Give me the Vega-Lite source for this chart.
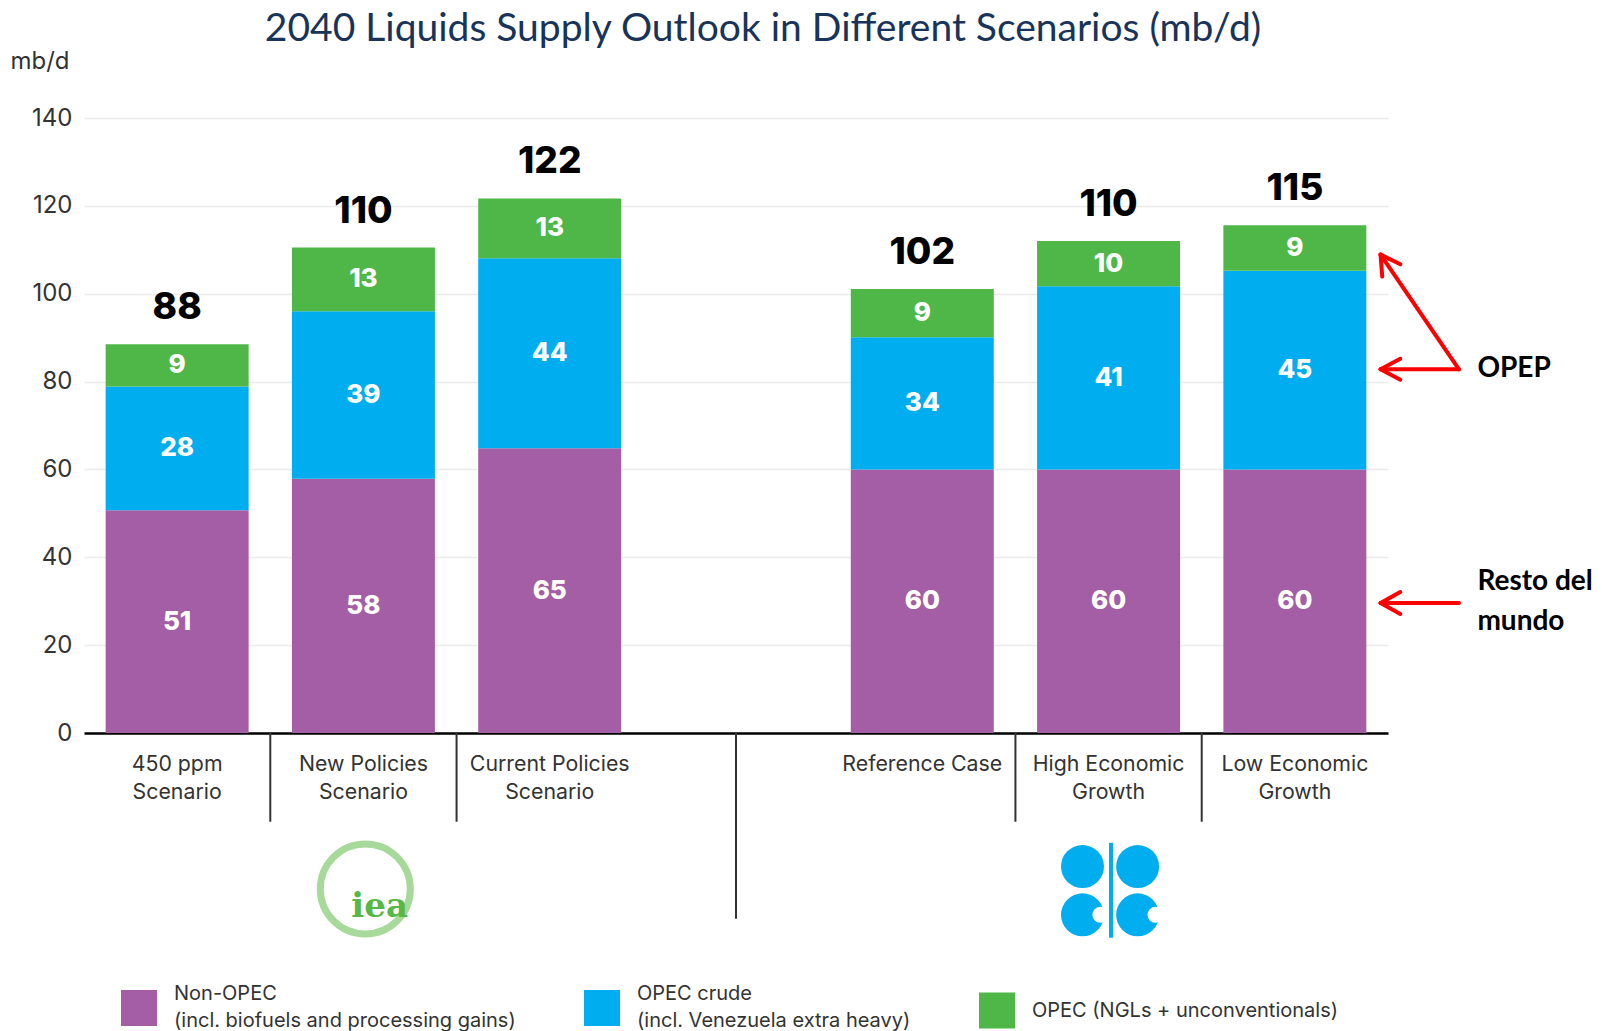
{
  "$schema": "https://vega.github.io/schema/vega-lite/v6.json",
  "width": 1304,
  "height": 615,
  "autosize": {"type": "none"},
  "padding": {"left": 84, "top": 118, "right": 214, "bottom": 298},
  "background": "white",
  "title": {
    "text": "2040 Liquids Supply Outlook in Different Scenarios (mb/d)",
    "font": "Lato",
    "fontSize": 39,
    "fontWeight": "normal",
    "color": "#18345a",
    "anchor": "middle",
    "frame": "group",
    "dx": 27,
    "offset": 0
  },
  "config": {
    "view": {"stroke": null},
    "font": "Inter",
    "style": {"guide-label": {"lineHeight": 27}}
  },
  "datasets": {
    "supply": [
      {"scenario": "450 ppm Scenario", "type": "Non-OPEC (incl. biofuels and processing gains)", "level": 1, "value": 50.7, "label": "51", "total": 88},
      {"scenario": "450 ppm Scenario", "type": "OPEC crude (incl. Venezuela extra heavy)", "level": 2, "value": 28.2, "label": "28", "total": 88},
      {"scenario": "450 ppm Scenario", "type": "OPEC (NGLs + unconventionals)", "level": 3, "value": 9.6, "label": "9", "total": 88},
      {"scenario": "New Policies Scenario", "type": "Non-OPEC (incl. biofuels and processing gains)", "level": 1, "value": 57.9, "label": "58", "total": 110},
      {"scenario": "New Policies Scenario", "type": "OPEC crude (incl. Venezuela extra heavy)", "level": 2, "value": 38.1, "label": "39", "total": 110},
      {"scenario": "New Policies Scenario", "type": "OPEC (NGLs + unconventionals)", "level": 3, "value": 14.5, "label": "13", "total": 110},
      {"scenario": "Current Policies Scenario", "type": "Non-OPEC (incl. biofuels and processing gains)", "level": 1, "value": 64.8, "label": "65", "total": 122},
      {"scenario": "Current Policies Scenario", "type": "OPEC crude (incl. Venezuela extra heavy)", "level": 2, "value": 43.3, "label": "44", "total": 122},
      {"scenario": "Current Policies Scenario", "type": "OPEC (NGLs + unconventionals)", "level": 3, "value": 13.6, "label": "13", "total": 122},
      {"scenario": "Reference Case", "type": "Non-OPEC (incl. biofuels and processing gains)", "level": 1, "value": 60.0, "label": "60", "total": 102},
      {"scenario": "Reference Case", "type": "OPEC crude (incl. Venezuela extra heavy)", "level": 2, "value": 30.1, "label": "34", "total": 102},
      {"scenario": "Reference Case", "type": "OPEC (NGLs + unconventionals)", "level": 3, "value": 11.0, "label": "9", "total": 102},
      {"scenario": "High Economic Growth", "type": "Non-OPEC (incl. biofuels and processing gains)", "level": 1, "value": 60.0, "label": "60", "total": 110},
      {"scenario": "High Economic Growth", "type": "OPEC crude (incl. Venezuela extra heavy)", "level": 2, "value": 41.7, "label": "41", "total": 110},
      {"scenario": "High Economic Growth", "type": "OPEC (NGLs + unconventionals)", "level": 3, "value": 10.3, "label": "10", "total": 110},
      {"scenario": "Low Economic Growth", "type": "Non-OPEC (incl. biofuels and processing gains)", "level": 1, "value": 60.0, "label": "60", "total": 115},
      {"scenario": "Low Economic Growth", "type": "OPEC crude (incl. Venezuela extra heavy)", "level": 2, "value": 45.2, "label": "45", "total": 115},
      {"scenario": "Low Economic Growth", "type": "OPEC (NGLs + unconventionals)", "level": 3, "value": 10.4, "label": "9", "total": 115}
    ],
    "arrows": [
      {"x": 7.381, "y": 82.8, "x2": 6.960, "y2": 108.9},
      {"x": 6.960, "y": 108.9, "x2": 6.969, "y2": 103.9},
      {"x": 6.960, "y": 108.9, "x2": 7.066, "y2": 106.7},
      {"x": 7.381, "y": 82.8, "x2": 6.960, "y2": 82.8},
      {"x": 6.960, "y": 82.8, "x2": 7.066, "y2": 85.2},
      {"x": 6.960, "y": 82.8, "x2": 7.066, "y2": 80.4},
      {"x": 7.381, "y": 29.6, "x2": 6.960, "y2": 29.6},
      {"x": 6.960, "y": 29.6, "x2": 7.066, "y2": 32.1},
      {"x": 6.960, "y": 29.6, "x2": 7.066, "y2": 27.1}
    ],
    "notes": [
      {"x": 7.48, "y": 82.8, "text": "OPEP"},
      {"x": 7.48, "y": 34.3, "text": "Resto del"},
      {"x": 7.48, "y": 25.2, "text": "mundo"}
    ],
    "opecBlobs": [
      {"x": 5.360, "y": -30.4},
      {"x": 5.656, "y": -30.4},
      {"x": 5.360, "y": -41.4},
      {"x": 5.656, "y": -41.4}
    ],
    "opecNotches": [
      {"x": 5.456, "y": -41.4},
      {"x": 5.752, "y": -41.4}
    ]
  },
  "layer": [
    {
      "data": {"name": "supply"},
      "encoding": {
        "x": {
          "field": "scenario",
          "type": "nominal",
          "title": null,
          "scale": {
            "domain": ["450 ppm Scenario", "New Policies Scenario", "Current Policies Scenario", "gap", "Reference Case", "High Economic Growth", "Low Economic Growth"],
            "paddingInner": 0.2324,
            "paddingOuter": 0.1162
          },
          "axis": {
            "labelAngle": 0,
            "ticks": false,
            "domain": true,
            "domainColor": "#000000",
            "domainWidth": 2.5,
            "labelFont": "Inter",
            "labelFontSize": 21.3,
            "labelColor": "#333333",
            "labelPadding": 20,
            "labelBaseline": "top",
            "labelLineHeight": 28.6,
            "labelLimit": 300,
            "labelExpr": "datum.label == '450 ppm Scenario' ? ['450 ppm', 'Scenario'] : datum.label == 'New Policies Scenario' ? ['New Policies', 'Scenario'] : datum.label == 'Current Policies Scenario' ? ['Current Policies', 'Scenario'] : datum.label == 'High Economic Growth' ? ['High Economic', 'Growth'] : datum.label == 'Low Economic Growth' ? ['Low Economic', 'Growth'] : datum.label == 'gap' ? '' : datum.label"
          }
        }
      },
      "layer": [
        {
          "mark": {"type": "bar"},
          "encoding": {
            "y": {
              "field": "value",
              "type": "quantitative",
              "stack": "zero",
              "title": "mb/d",
              "scale": {"domain": [0, 140], "nice": false},
              "axis": {
                "values": [0, 20, 40, 60, 80, 100, 120, 140],
                "grid": true,
                "gridColor": "#ebebeb",
                "gridWidth": 1.5,
                "domain": false,
                "ticks": false,
                "labelFont": "Inter",
                "labelFontSize": 24,
                "labelColor": "#333333",
                "labelPadding": 12,
                "titleAngle": 0,
                "titleAlign": "left",
                "titleBaseline": "middle",
                "titleX": -74,
                "titleY": -57,
                "titleFont": "Inter",
                "titleFontSize": 24,
                "titleFontWeight": "normal",
                "titleColor": "#333333"
              }
            },
            "color": {
              "field": "type",
              "type": "nominal",
              "scale": {
                "domain": ["Non-OPEC (incl. biofuels and processing gains)", "OPEC crude (incl. Venezuela extra heavy)", "OPEC (NGLs + unconventionals)"],
                "range": ["#a45ea5", "#00aeef", "#4eb748"]
              },
              "legend": {
                "title": null,
                "orient": "none",
                "legendX": 37,
                "legendY": 872,
                "direction": "horizontal",
                "columns": 3,
                "padding": 0,
                "symbolType": "square",
                "symbolSize": 1296,
                "symbolStrokeWidth": 0,
                "symbolOpacity": 1,
                "labelFont": "Inter",
                "labelFontSize": 20,
                "labelColor": "#333333",
                "labelOffset": 17,
                "labelLimit": 500,
                "columnPadding": 68,
                "labelBaseline": {"expr": "indexof(datum.value, 'unconventionals') >= 0 ? 'middle' : 'line-bottom'"},
                "labelExpr": "datum.label == 'Non-OPEC (incl. biofuels and processing gains)' ? ['Non-OPEC', '(incl. biofuels and processing gains)'] : datum.label == 'OPEC crude (incl. Venezuela extra heavy)' ? ['OPEC crude', '(incl. Venezuela extra heavy)'] : datum.label"
              }
            },
            "order": {"field": "level", "type": "quantitative"}
          }
        },
        {
          "transform": [
            {"stack": "value", "groupby": ["scenario"], "sort": [{"field": "level", "order": "ascending"}], "as": ["v0", "v1"]},
            {"fold": ["v0", "v1"], "as": ["edge", "pos"]}
          ],
          "mark": {"type": "text", "color": "white", "font": "Inter", "fontWeight": 800, "fontSize": 26, "baseline": "middle"},
          "encoding": {
            "y": {"field": "pos", "aggregate": "mean", "type": "quantitative", "stack": null, "title": "mb/d", "scale": {"domain": [0, 140], "nice": false}},
            "text": {"field": "label", "type": "nominal"},
            "detail": {"field": "type", "type": "nominal"}
          }
        },
        {
          "transform": [
            {"aggregate": [{"op": "sum", "field": "value", "as": "top"}, {"op": "max", "field": "total", "as": "total"}], "groupby": ["scenario"]}
          ],
          "mark": {"type": "text", "color": "black", "font": "Inter", "fontWeight": 800, "fontSize": 37, "baseline": "middle", "dy": -36},
          "encoding": {
            "y": {"field": "top", "type": "quantitative", "title": "mb/d", "scale": {"domain": [0, 140], "nice": false}},
            "text": {"field": "total", "type": "quantitative"}
          }
        }
      ]
    },
    {
      "layer": [
        {
          "data": {"values": [{"slot": 1}, {"slot": 2}, {"slot": 5}, {"slot": 6}]},
          "mark": {"type": "rule", "color": "#333333", "strokeWidth": 2},
          "encoding": {
            "x": {"field": "slot", "type": "quantitative", "axis": null, "scale": {"domain": [0, 7], "nice": false, "zero": false}},
            "y": {"datum": 0, "type": "quantitative", "scale": {"domain": [0, 140], "nice": false}},
            "y2": {"datum": -20.2}
          }
        },
        {
          "data": {"values": [{"slot": 3.5}]},
          "mark": {"type": "rule", "color": "#333333", "strokeWidth": 2},
          "encoding": {
            "x": {"field": "slot", "type": "quantitative", "axis": null, "scale": {"domain": [0, 7], "nice": false, "zero": false}},
            "y": {"datum": 0, "type": "quantitative", "scale": {"domain": [0, 140], "nice": false}},
            "y2": {"datum": -42.3}
          }
        },
        {
          "data": {"name": "arrows"},
          "mark": {"type": "rule", "color": "#ff0000", "strokeWidth": 4, "strokeCap": "round"},
          "encoding": {
            "x": {"field": "x", "type": "quantitative", "axis": null, "scale": {"domain": [0, 7], "nice": false, "zero": false}},
            "y": {"field": "y", "type": "quantitative", "title": "mb/d", "scale": {"domain": [0, 140], "nice": false}},
            "x2": {"field": "x2"},
            "y2": {"field": "y2"}
          }
        },
        {
          "data": {"name": "notes"},
          "mark": {"type": "text", "font": "Lato", "fontWeight": "bold", "fontSize": 28, "align": "left", "baseline": "middle", "color": "black"},
          "encoding": {
            "x": {"field": "x", "type": "quantitative", "axis": null, "scale": {"domain": [0, 7], "nice": false, "zero": false}},
            "y": {"field": "y", "type": "quantitative", "title": "mb/d", "scale": {"domain": [0, 140], "nice": false}},
            "text": {"field": "text", "type": "nominal"}
          }
        },
        {
          "data": {"values": [{"x": 1.51, "y": -35.5}]},
          "mark": {"type": "point", "shape": "circle", "filled": false, "stroke": "#a6d99a", "strokeWidth": 7, "size": 8100, "opacity": 1},
          "encoding": {
            "x": {"field": "x", "type": "quantitative", "axis": null, "scale": {"domain": [0, 7], "nice": false, "zero": false}},
            "y": {"field": "y", "type": "quantitative", "title": "mb/d", "scale": {"domain": [0, 140], "nice": false}}
          }
        },
        {
          "data": {"values": [{"x": 1.587, "y": -41.9, "text": "iea"}]},
          "mark": {"type": "text", "font": "DejaVu Serif", "fontWeight": "bold", "fontSize": 34, "align": "center", "baseline": "alphabetic", "color": "#56b947"},
          "encoding": {
            "x": {"field": "x", "type": "quantitative", "axis": null, "scale": {"domain": [0, 7], "nice": false, "zero": false}},
            "y": {"field": "y", "type": "quantitative", "title": "mb/d", "scale": {"domain": [0, 140], "nice": false}},
            "text": {"field": "text", "type": "nominal"}
          }
        },
        {
          "data": {"name": "opecBlobs"},
          "mark": {"type": "point", "shape": "circle", "filled": true, "color": "#00aeef", "size": 1849, "opacity": 1, "strokeWidth": 0},
          "encoding": {
            "x": {"field": "x", "type": "quantitative", "axis": null, "scale": {"domain": [0, 7], "nice": false, "zero": false}},
            "y": {"field": "y", "type": "quantitative", "title": "mb/d", "scale": {"domain": [0, 140], "nice": false}}
          }
        },
        {
          "data": {"name": "opecNotches"},
          "mark": {"type": "point", "shape": "circle", "filled": true, "color": "white", "size": 256, "opacity": 1, "strokeWidth": 0},
          "encoding": {
            "x": {"field": "x", "type": "quantitative", "axis": null, "scale": {"domain": [0, 7], "nice": false, "zero": false}},
            "y": {"field": "y", "type": "quantitative", "title": "mb/d", "scale": {"domain": [0, 140], "nice": false}}
          }
        },
        {
          "data": {"values": [{"x": 5.513, "y": -25.0, "y2": -46.6}]},
          "mark": {"type": "rule", "color": "#00aeef", "strokeWidth": 4},
          "encoding": {
            "x": {"field": "x", "type": "quantitative", "axis": null, "scale": {"domain": [0, 7], "nice": false, "zero": false}},
            "y": {"field": "y", "type": "quantitative", "title": "mb/d", "scale": {"domain": [0, 140], "nice": false}},
            "y2": {"field": "y2"}
          }
        }
      ]
    }
  ],
  "resolve": {"scale": {"x": "independent"}}
}
